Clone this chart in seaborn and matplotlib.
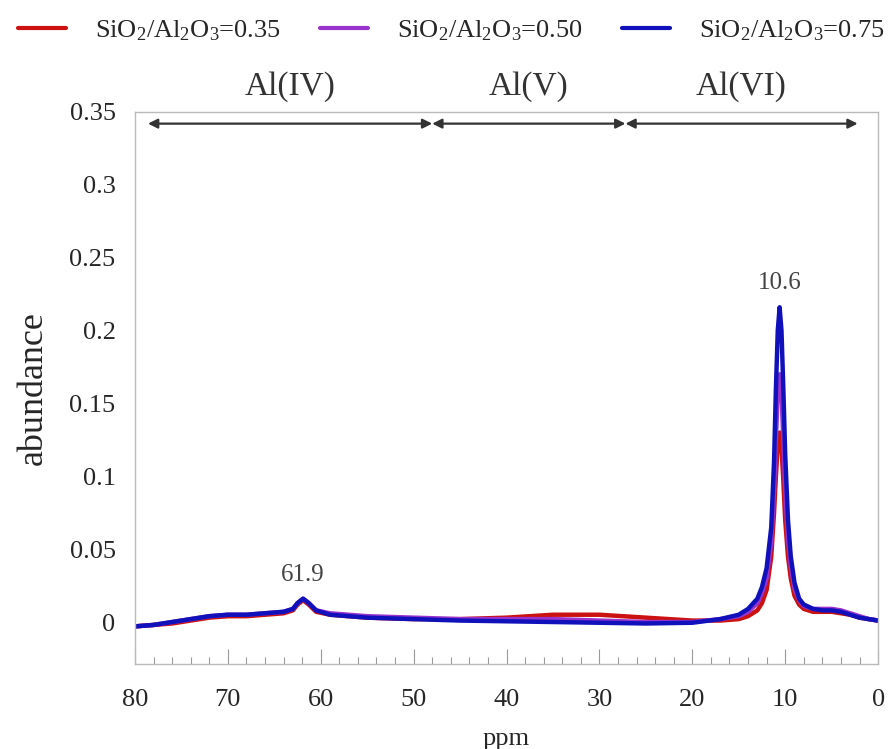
import numpy as np
import pandas as pd
import matplotlib
import seaborn as sns
import matplotlib.pyplot as plt
from matplotlib.ticker import MultipleLocator

matplotlib.use('Agg')

# chemical shift, ppm
ppm = [80, 78, 76, 74, 72, 70, 68, 66, 64, 63, 62.5, 61.9, 61.3, 60.5, 59, 57, 55,
       50, 45, 40, 35, 30, 25, 20, 17, 15, 14, 13, 12.5, 12, 11.5, 11.2, 11, 10.8,
       10.6, 10.4, 10.2, 10, 9.7, 9.4, 9, 8.5, 8, 7, 6, 5, 4, 3, 2, 1, 0]

red = [-0.003, -0.002, -0.001, 0.001, 0.003, 0.004, 0.004, 0.005, 0.006, 0.008, 0.012,
       0.015, 0.012, 0.007, 0.005, 0.004, 0.003, 0.002, 0.002, 0.003, 0.005, 0.005,
       0.003, 0.001, 0.001, 0.002, 0.004, 0.008, 0.013, 0.022, 0.045, 0.075, 0.100,
       0.122, 0.130, 0.120, 0.097, 0.070, 0.045, 0.030, 0.018, 0.012, 0.009, 0.007,
       0.007, 0.007, 0.006, 0.005, 0.003, 0.002, 0.001]

purple = [-0.003, -0.002, 0.000, 0.002, 0.004, 0.005, 0.005, 0.006, 0.007, 0.009, 0.013,
          0.016, 0.013, 0.008, 0.006, 0.005, 0.004, 0.003, 0.002, 0.002, 0.002, 0.001,
          0.000, 0.000, 0.002, 0.004, 0.007, 0.013, 0.020, 0.030, 0.055, 0.090, 0.125,
          0.158, 0.170, 0.158, 0.125, 0.090, 0.057, 0.038, 0.023, 0.015, 0.011, 0.009,
          0.009, 0.009, 0.008, 0.006, 0.004, 0.002, 0.001]

blue = [-0.003, -0.002, 0.000, 0.002, 0.004, 0.005, 0.005, 0.006, 0.007, 0.009, 0.013,
        0.016, 0.013, 0.008, 0.005, 0.004, 0.003, 0.002, 0.001, 0.0005, 0.000, -0.0005,
        -0.001, -0.0005, 0.002, 0.005, 0.009, 0.016, 0.024, 0.037, 0.065, 0.110, 0.160,
        0.200, 0.216, 0.200, 0.160, 0.115, 0.070, 0.045, 0.027, 0.016, 0.012, 0.009,
        0.008, 0.008, 0.007, 0.005, 0.003, 0.002, 0.001]

labels = ['SiO$_2$/Al$_2$O$_3$=0.35', 'SiO$_2$/Al$_2$O$_3$=0.50', 'SiO$_2$/Al$_2$O$_3$=0.75']
colors = ['#cc1111', '#9933cc', '#1111bb']

regions = ['Al(IV)', 'Al(V)', 'Al(VI)']
region_bounds = [(78.6, 48.0), (48.0, 27.2), (27.2, 2.2)]
peaks = [61.9, 10.6]
peak_heights = [0.016, 0.216]

df = pd.concat([pd.DataFrame({'ppm': ppm, 'abundance': v, 'sample': lab})
                for v, lab in zip([red, purple, blue], labels)])

sns.set_style('white')
plt.rcParams['font.family'] = ['Liberation Serif', 'DejaVu Serif']
plt.rcParams['mathtext.fontset'] = 'custom'
plt.rcParams['mathtext.rm'] = 'Liberation Serif'
plt.rcParams['mathtext.it'] = 'Liberation Serif'

fig = plt.figure(figsize=(8.91, 7.49), dpi=100)
ax = fig.add_axes([0.1515, 0.1135, 0.834, 0.737])

sns.lineplot(data=df, x='ppm', y='abundance', hue='sample', palette=colors,
             linewidth=3.2, ax=ax, sort=False, legend=False)

ax.set_xlim(80, 0)
ax.set_ylim(-0.0288, 0.35)
ax.xaxis.set_major_locator(MultipleLocator(10))
ax.xaxis.set_minor_locator(MultipleLocator(2))
ax.set_yticks(np.arange(0, 0.351, 0.05))
ax.set_yticklabels(['0', '0.05', '0.1', '0.15', '0.2', '0.25', '0.3', '0.35'])
ax.tick_params(axis='x', which='major', direction='in', length=11, width=0.8,
               color='#999999', labelsize=19, pad=18, bottom=True)
ax.tick_params(axis='x', which='minor', direction='in', length=5, width=0.8,
               color='#999999', bottom=True)
ax.tick_params(axis='y', length=0, labelsize=19, pad=14)
for s in ax.spines.values():
    s.set_color('#bbbbbb')
    s.set_linewidth(1)

ax.set_xlabel('ppm', fontsize=19, labelpad=12)
ax.set_ylabel('abundance', fontsize=26, labelpad=14)

# coordination regions
for name, (a, b) in zip(regions, region_bounds):
    ax.annotate('', xy=(b, 0.342), xytext=(a, 0.342),
                arrowprops=dict(arrowstyle='<|-|>', color='#333333', lw=1.6,
                                mutation_scale=14, shrinkA=0, shrinkB=0),
                annotation_clip=False)
    ax.text((a + b) / 2, 0.357, name, ha='center', va='bottom', fontsize=24,
            color='#333333', clip_on=False)

for p, h in zip(peaks, peak_heights):
    ax.text(p, h + 0.009, f'{p}', ha='center', va='bottom', fontsize=18, color='#444444')

handles = [plt.Line2D([], [], color=c, lw=3) for c in colors]
fig.legend(handles, labels, loc='upper left', bbox_to_anchor=(0.0, 1.0), ncol=3,
           frameon=False, fontsize=19, handlelength=1.8, handletextpad=1.1,
           columnspacing=1.5, borderaxespad=0.3)

fig.savefig('out.png', dpi=100)
